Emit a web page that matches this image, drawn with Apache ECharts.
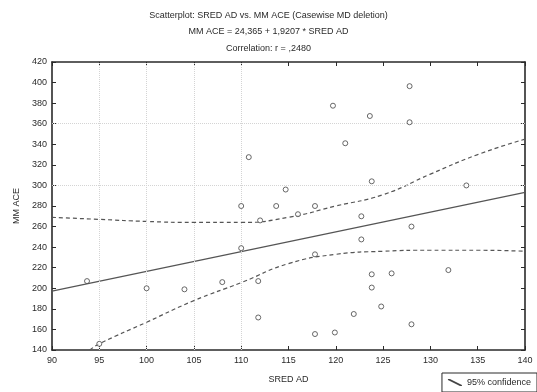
<!DOCTYPE html>
<html>
<head>
<meta charset="utf-8">
<script src="https://cdn.jsdelivr.net/npm/echarts@6/dist/echarts.min.js"></script>
<style>html,body{margin:0;padding:0;background:#fff}#c{width:537px;height:392px}</style>
</head>
<body>
<div id="c"></div>
<script>
// ---- data ----
var titleLines = ['Scatterplot: SRED AD vs. MM ACE (Casewise MD deletion)', 'MM ACE = 24,365 + 1,9207 * SRED AD', 'Correlation: r = ,2480'];
var xName = 'SRED AD';
var yName = 'MM ACE';
var legendName = '95% confidence';

var pointsX = [93.7, 100, 104, 95, 110, 113.7, 112, 116, 117.8, 122.7, 122.7, 128, 110, 117.8, 111.8, 108, 123.8, 125.9, 131.9, 123.8, 124.8, 121.9, 111.8, 128, 117.8, 119.9, 110.8, 119.7, 121, 114.7, 127.8, 123.6, 127.8, 123.8, 133.8];
var pointsY = [207, 200, 199, 146, 280, 280, 266, 272, 280, 270, 247.5, 260, 239, 233, 207, 206, 213.6, 214.5, 217.7, 200.7, 182.3, 175, 171.6, 165, 155.5, 157, 327.5, 377.5, 341, 296, 396.5, 367.5, 361.4, 304, 300];

var fitX = [90, 140];
var fitY = [197.2, 293.3];

var upperX = [90, 95, 100, 105, 110, 115, 120, 125, 130, 135, 140];
var upperY = [269, 267, 265, 264, 264, 269, 280, 291, 311, 330, 345];

var lowerX = [94, 95, 100, 105, 110, 115, 120, 125, 130, 135, 140];
var lowerY = [140, 146, 167, 188, 205.5, 224, 233, 236, 237, 237, 236];

var faintGridX = [95, 100, 105, 110];
var faintGridY = [300, 360];

function pairs(xs, ys) { return xs.map(function (x, i) { return [x, ys[i]]; }); }

var chart = echarts.init(document.getElementById('c'), null, { renderer: 'canvas' });
var FONT = 'Liberation Sans';
var dark = '#2a2a2a';
var lineCol = '#555';

var markData = faintGridX.map(function (v) { return { xAxis: v }; })
  .concat(faintGridY.map(function (v) { return { yAxis: v }; }));

chart.setOption({
  animation: false,
  backgroundColor: '#fff',
  title: {
    text: titleLines.join('\n'),
    left: 'center',
    top: 2,
    textStyle: { fontFamily: FONT, fontSize: 9, fontWeight: 'normal', color: dark, lineHeight: 16.5 }
  },
  legend: {
    data: [legendName],
    right: 0, bottom: 0,
    borderColor: dark, borderWidth: 1,
    padding: [5, 6],
    itemWidth: 14, itemHeight: 7,
    icon: 'path://M0,0 L2,0 L14,6 L14,7 L12,7 L0,1 Z',
    itemStyle: { color: '#444' },
    textStyle: { fontFamily: FONT, fontSize: 9, color: dark }
  },
  grid: { left: 52, right: 12, top: 62, bottom: 42 },
  xAxis: [{
    type: 'value', min: 90, max: 140, interval: 5,
    name: xName, nameLocation: 'middle', nameGap: 25,
    nameTextStyle: { fontFamily: FONT, fontSize: 9, color: dark },
    axisLine: { lineStyle: { color: dark, width: 1.6 } },
    axisTick: { inside: true, length: 4, lineStyle: { color: dark } },
    axisLabel: { fontFamily: FONT, fontSize: 9, color: dark, margin: 6 },
    splitLine: { show: false }
  }, {
    type: 'value', min: 90, max: 140, interval: 5, position: 'top',
    axisLine: { lineStyle: { color: dark, width: 1.6 } },
    axisTick: { inside: true, length: 4, lineStyle: { color: dark } },
    axisLabel: { show: false }, splitLine: { show: false }
  }],
  yAxis: [{
    type: 'value', min: 140, max: 420, interval: 20,
    name: yName, nameLocation: 'middle', nameGap: 31, nameRotate: 90,
    nameTextStyle: { fontFamily: FONT, fontSize: 9, color: dark },
    axisLine: { show: true, lineStyle: { color: dark, width: 1.6 } },
    axisTick: { show: true, inside: true, length: 4, lineStyle: { color: dark } },
    axisLabel: { fontFamily: FONT, fontSize: 9, color: dark, margin: 5 },
    splitLine: { show: false }
  }, {
    type: 'value', min: 140, max: 420, interval: 20, position: 'right',
    axisLine: { show: true, lineStyle: { color: dark, width: 1.6 } },
    axisTick: { show: true, inside: true, length: 4, lineStyle: { color: dark } },
    axisLabel: { show: false }, splitLine: { show: false }
  }],
  series: [
    {
      name: 'points', type: 'scatter',
      data: pairs(pointsX, pointsY),
      symbol: 'circle', symbolSize: 5,
      itemStyle: { color: '#fff', borderColor: '#444', borderWidth: 1 },
      markLine: {
        silent: true, symbol: 'none', label: { show: false },
        lineStyle: { color: '#d4d4d4', type: 'dotted', width: 1 },
        data: markData
      },
      z: 5
    },
    {
      name: 'fit', type: 'line', data: pairs(fitX, fitY),
      symbol: 'none', lineStyle: { color: lineCol, width: 1.2 }
    },
    {
      name: legendName, type: 'line', data: pairs(upperX, upperY), smooth: true,
      symbol: 'none', itemStyle: { color: lineCol },
      lineStyle: { color: lineCol, width: 1.2, type: [4, 3] }
    },
    {
      name: legendName, type: 'line', data: pairs(lowerX, lowerY), smooth: true,
      symbol: 'none', itemStyle: { color: lineCol },
      lineStyle: { color: lineCol, width: 1.2, type: [4, 3] }
    }
  ]
});
</script>
</body>
</html>
